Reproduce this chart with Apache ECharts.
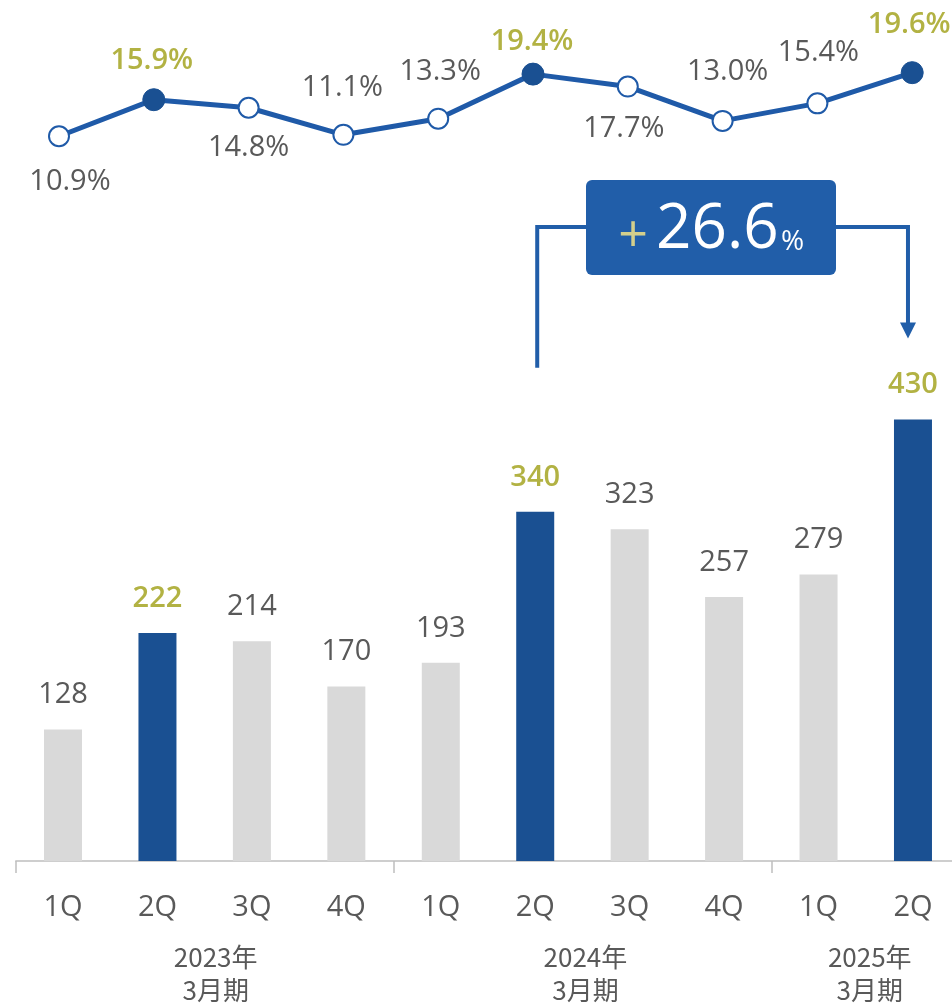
<!DOCTYPE html>
<html><head><meta charset="utf-8">
<script src="https://cdn.jsdelivr.net/npm/echarts@6/dist/echarts.min.js"></script>
<style>html,body{margin:0;padding:0;background:#fff}#c{width:952px;height:1003px}</style>
</head><body><div id="c"></div>
<script>
// ---- data ----
const quarters = ['1Q','2Q','3Q','4Q','1Q','2Q','3Q','4Q','1Q','2Q'];
const profit = [128,222,214,170,193,340,323,257,279,430];
const margin = [10.9,15.9,14.8,11.1,13.3,19.4,17.7,13.0,15.4,19.6];
const highlightIdx = [1,5,9];
const fiscalYears = [['2023年','3月期'],['2024年','3月期'],['2025年','3月期']];
const fiscalGroupSizes = [4,4,2];
const growthPct = 26.6;

// ---- styling ----
const pctLabelOffsets = [[11,45],[-2,-39],[0,40],[-1,-47],[2,-47],[-1,-32],[-4,42],[5,-49],[1,-51],[-3,-48]];
const groupLabelShift = [22, 6, 8];
const BLUE_LINE = '#1f5aa8', BLUE_DARK = '#1a5092', GRAY_BAR = '#d9d9d9', TXT = '#595959', OLIVE = '#b2b243';
const FONT = '"Open Sans", "Noto Sans", sans-serif';
const CJK = '"Noto Sans CJK JP", sans-serif';

const boundaries = [], centers = [];
let acc = 0;
fiscalGroupSizes.forEach(n => { boundaries.push(acc); centers.push(acc + n / 2); acc += n; });

const isHi = i => highlightIdx.indexOf(i) >= 0;
const groupRich = {};
groupLabelShift.forEach((s, k) => {
  groupRich['g' + k] = {color:TXT, fontSize:26, lineHeight:33, fontFamily:CJK, padding:[0,0,0,s]};
});

const chart = echarts.init(document.getElementById('c'), null, {renderer:'canvas'});
const option = {
  backgroundColor: '#fff',
  animation: false,
  grid: [
    {left: 15.8, width: 944.4, top: 39.4, bottom: 142, outerBoundsMode:'none', containLabel:false},
    {left: 11.6, width: 948, top: 33.2, bottom: 787.1, outerBoundsMode:'none', containLabel:false}
  ],
  xAxis: [
    {type:'category', gridIndex:0, data: quarters, boundaryGap:true,
     axisLine:{show:false}, axisTick:{show:false}, splitLine:{show:false},
     axisLabel:{color:TXT, fontSize:29, fontFamily:FONT, margin:32, interval:0}},
    {type:'value', gridIndex:0, min:0, max:quarters.length, position:'bottom', offset:0,
     axisLine:{show:true, lineStyle:{color:'#bfbfbf', width:1.5}},
     axisTick:{show:true, customValues: boundaries, length:12, lineStyle:{color:'#bfbfbf', width:1.5}},
     splitLine:{show:false},
     axisLabel:{customValues: centers, margin:80, color:TXT, fontSize:26, lineHeight:33, fontFamily:CJK,
       rich: groupRich,
       formatter: v => { const k = centers.indexOf(v); return k >= 0 ? fiscalYears[k].map(t => '{g' + k + '|' + t + '}').join('\n') : ''; }}},
    {type:'category', gridIndex:1, data: quarters, show:false, boundaryGap:true}
  ],
  yAxis: [
    {type:'value', gridIndex:0, min:0, max:800, show:false, splitLine:{show:false}},
    {type:'value', gridIndex:1, min:0, max:25, show:false, splitLine:{show:false}}
  ],
  series: [
    {type:'bar', xAxisIndex:0, yAxisIndex:0, barWidth:38,
     data: profit.map((v,i) => ({value:v,
       itemStyle:{color: isHi(i) ? BLUE_DARK : GRAY_BAR},
       label:{color: isHi(i) ? OLIVE : TXT, fontWeight: isHi(i) ? 600 : 'normal'}})),
     label:{show:true, position:'top', distance:20, fontSize:29, fontFamily:FONT}},
    {type:'line', xAxisIndex:2, yAxisIndex:1,
     lineStyle:{color:BLUE_LINE, width:5}, symbol:'circle', showAllSymbol:true,
     data: margin.map((v,i) => ({value:v,
       symbolSize: isHi(i) ? 22 : 20,
       itemStyle: isHi(i) ? {color:BLUE_DARK, borderColor:BLUE_DARK, borderWidth:1}
                          : {color:'#fff', borderColor:BLUE_LINE, borderWidth:2},
       label:{show:true, position:'inside', offset: pctLabelOffsets[i],
         color: isHi(i) ? OLIVE : TXT, fontWeight: isHi(i) ? 600 : 'normal',
         fontSize:29, fontFamily:FONT, formatter: p => p.value.toFixed(1) + '%'}})),
     z:5}
  ]
};
chart.setOption(option);

// ---- annotation bracket (+growth) anchored to the 2Q bars ----
const a = chart.convertToPixel({xAxisIndex:0, yAxisIndex:0}, [5, profit[5]]);
const b = chart.convertToPixel({xAxisIndex:0, yAxisIndex:0}, [9, profit[9]]);
const leftX = a[0] + 2, bottomY = a[1] - 144, topY = 227;
const rightX = b[0] - 5, tipY = b[1] - 81;
const boxL = 586, boxR = 836, boxT = 180, boxB = 275;
const BOX = '#215ea9';
chart.setOption({graphic:[
  {type:'polyline', shape:{points:[[leftX,bottomY],[leftX,topY],[boxL,topY]]}, style:{stroke:BOX, lineWidth:4, fill:null}},
  {type:'polyline', shape:{points:[[boxR,topY],[rightX,topY],[rightX,tipY-12]]}, style:{stroke:BOX, lineWidth:4, fill:null}},
  {type:'polygon', shape:{points:[[rightX-8,tipY-16],[rightX+8,tipY-16],[rightX,tipY]]}, style:{fill:BOX}},
  {type:'rect', shape:{x:boxL, y:boxT, width:boxR-boxL, height:boxB-boxT, r:6}, style:{fill:BOX}},
  {type:'text', x:633, y:237, style:{text:'+', fill:'#d3cf8c', font:'normal 52px ' + FONT, align:'center', verticalAlign:'middle'}},
  {type:'text', x:656, y:230, style:{text: growthPct.toFixed(1), fill:'#fff', font:'normal 62px ' + FONT, align:'left', verticalAlign:'middle'}},
  {type:'text', x:781, y:242, style:{text:'%', fill:'#fff', font:'normal 28px ' + FONT, align:'left', verticalAlign:'middle'}}
]});
</script></body></html>
